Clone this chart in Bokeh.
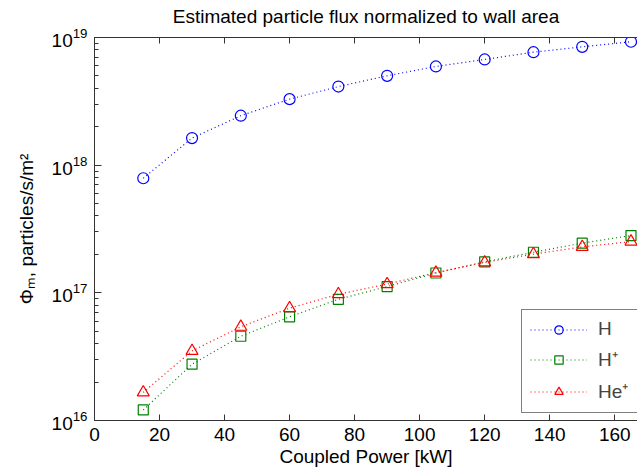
from bokeh.plotting import figure
from bokeh.models import LinearAxis, FixedTicker, Legend, LegendItem, Range1d
from bokeh.embed import file_html
from bokeh.resources import INLINE

# ---- data ----
power_kw = [15, 30, 45, 60, 75, 90, 105, 120, 135, 150, 165]
flux_H = [7.9e17, 1.63e18, 2.44e18, 3.29e18, 4.13e18, 5.01e18, 5.93e18, 6.73e18, 7.67e18, 8.45e18, 9.26e18]
flux_Hplus = [1.21e16, 2.76e16, 4.57e16, 6.49e16, 8.9e16, 1.12e17, 1.43e17, 1.75e17, 2.08e17, 2.45e17, 2.81e17]
flux_Heplus = [1.66e16, 3.51e16, 5.42e16, 7.58e16, 9.75e16, 1.17e17, 1.44e17, 1.73e17, 2.01e17, 2.29e17, 2.52e17]
x_ticks = [0, 20, 40, 60, 80, 100, 120, 140, 160]
series_names = ["H", "H\u207a", "He\u207a"]
title_text = "Estimated particle flux normalized to wall area"

FONT = "Liberation Sans"
FS = "19px"
AX = "#333333"

p = figure(width=637, height=474, output_backend="svg", toolbar_location=None,
           x_range=Range1d(0, 167), y_range=Range1d(1e16, 1e19), y_axis_type="log",
           min_border_left=94, min_border_right=0, min_border_top=37, min_border_bottom=54)
p.outline_line_color = None
p.xgrid.visible = False
p.ygrid.visible = False

xa = p.xaxis[0]
xa.ticker = FixedTicker(ticks=x_ticks)
xa.axis_label = "Coupled Power [kW]"
ya = p.yaxis[0]
ya.axis_label = "\u03a6\u2098, particles/s/m\u00b2"

# top axis carries the title as its label (box-style top border with inward ticks)
top = LinearAxis(ticker=FixedTicker(ticks=x_ticks),
                 major_label_overrides={t: "" for t in x_ticks},
                 axis_label=title_text)
p.add_layout(top, "above")

for ax in (xa, ya, top):
    ax.axis_label_text_font = FONT
    ax.axis_label_text_font_size = FS
    ax.axis_label_text_font_style = "normal"
    ax.axis_label_text_color = "black"
    ax.major_label_text_font = FONT
    ax.major_label_text_font_size = FS
    ax.major_label_text_color = "black"
    ax.axis_line_color = AX
    ax.major_tick_line_color = AX
    ax.minor_tick_line_color = AX
    ax.major_tick_in = 7
    ax.major_tick_out = 0
    ax.minor_tick_in = 4
    ax.minor_tick_out = 0
for ax in (xa, top):
    ax.minor_tick_line_color = None
    ax.major_tick_in = 6
xa.major_label_standoff = 7
xa.axis_label_standoff = 2
ya.major_label_standoff = 7
ya.axis_label_standoff = 12
top.major_label_standoff = 0
top.axis_label_standoff = 11

styles = [
    (flux_H, "blue", "circle", 11),
    (flux_Hplus, "green", "square", 10),
    (flux_Heplus, "red", "triangle", 12),
]
items = []
for name, (vals, col, mk, sz) in zip(series_names, styles):
    l = p.line(power_kw, vals, line_color=col, line_dash="1 3", line_width=1.2)
    s = p.scatter(power_kw, vals, marker=mk, size=sz, fill_color=None, line_color=col, line_width=1.2)
    items.append(LegendItem(label=name, renderers=[l, s]))

legend = Legend(items=items, location=(427, 7), border_line_color="black",
                background_fill_color="white", background_fill_alpha=1.0,
                label_text_font=FONT, label_text_font_size=FS,
                glyph_width=57, glyph_height=21, label_height=21, label_width=70,
                label_standoff=11, padding=8, spacing=6, margin=0)
p.add_layout(legend)

open("out.html", "w").write(file_html(p, INLINE))
